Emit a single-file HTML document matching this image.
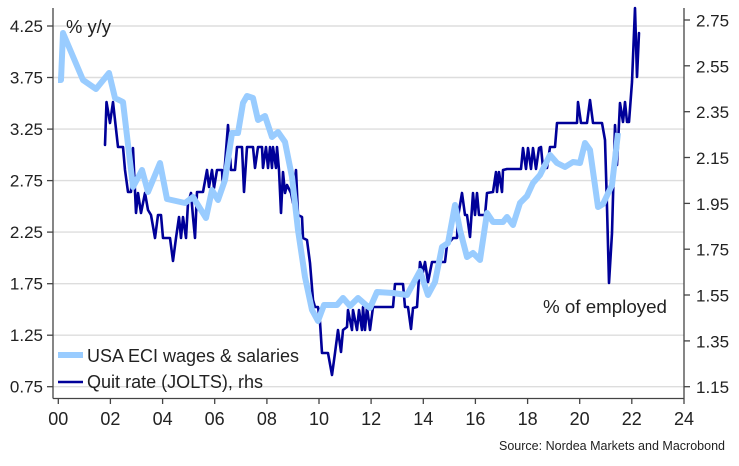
<!DOCTYPE html>
<html>
<head>
<meta charset="utf-8">
<style>
  html,body{margin:0;padding:0;background:#fff;}
  svg{display:block;}
  text{font-family:"Liberation Sans","DejaVu Sans",sans-serif;fill:#222;}
</style>
</head>
<body>
<svg width="739" height="466" viewBox="0 0 739 466" xmlns="http://www.w3.org/2000/svg">
  <!-- gridlines (left scale) -->
  <g stroke="#dddddd" stroke-width="1.4">
    <line x1="53" y1="26" x2="684" y2="26"/>
    <line x1="53" y1="77.5" x2="684" y2="77.5"/>
    <line x1="53" y1="129.1" x2="684" y2="129.1"/>
    <line x1="53" y1="180.6" x2="684" y2="180.6"/>
    <line x1="53" y1="232.1" x2="684" y2="232.1"/>
    <line x1="53" y1="283.7" x2="684" y2="283.7"/>
    <line x1="53" y1="335.2" x2="684" y2="335.2"/>
    <line x1="53" y1="386.7" x2="684" y2="386.7"/>
  </g>

  <!-- axes -->
  <g stroke="#444" stroke-width="1.3" fill="none">
    <line x1="53" y1="8" x2="53" y2="398.5"/>
    <line x1="684" y1="8" x2="684" y2="398.5"/>
    <line x1="53" y1="398.5" x2="684" y2="398.5"/>
    <!-- left ticks -->
    <line x1="47" y1="26" x2="53" y2="26"/>
    <line x1="47" y1="77.5" x2="53" y2="77.5"/>
    <line x1="47" y1="129.1" x2="53" y2="129.1"/>
    <line x1="47" y1="180.6" x2="53" y2="180.6"/>
    <line x1="47" y1="232.1" x2="53" y2="232.1"/>
    <line x1="47" y1="283.7" x2="53" y2="283.7"/>
    <line x1="47" y1="335.2" x2="53" y2="335.2"/>
    <line x1="47" y1="386.7" x2="53" y2="386.7"/>
    <!-- right ticks -->
    <line x1="684" y1="20" x2="690" y2="20"/>
    <line x1="684" y1="65.8" x2="690" y2="65.8"/>
    <line x1="684" y1="111.7" x2="690" y2="111.7"/>
    <line x1="684" y1="157.5" x2="690" y2="157.5"/>
    <line x1="684" y1="203.4" x2="690" y2="203.4"/>
    <line x1="684" y1="249.2" x2="690" y2="249.2"/>
    <line x1="684" y1="295" x2="690" y2="295"/>
    <line x1="684" y1="340.9" x2="690" y2="340.9"/>
    <line x1="684" y1="386.7" x2="690" y2="386.7"/>
    <!-- x ticks -->
    <line x1="58.3" y1="398.5" x2="58.3" y2="404"/>
    <line x1="110.4" y1="398.5" x2="110.4" y2="404"/>
    <line x1="162.6" y1="398.5" x2="162.6" y2="404"/>
    <line x1="214.7" y1="398.5" x2="214.7" y2="404"/>
    <line x1="266.9" y1="398.5" x2="266.9" y2="404"/>
    <line x1="319" y1="398.5" x2="319" y2="404"/>
    <line x1="371.1" y1="398.5" x2="371.1" y2="404"/>
    <line x1="423.3" y1="398.5" x2="423.3" y2="404"/>
    <line x1="475.4" y1="398.5" x2="475.4" y2="404"/>
    <line x1="527.6" y1="398.5" x2="527.6" y2="404"/>
    <line x1="579.7" y1="398.5" x2="579.7" y2="404"/>
    <line x1="631.8" y1="398.5" x2="631.8" y2="404"/>
    <line x1="684" y1="398.5" x2="684" y2="404"/>
  </g>

  <!-- left labels -->
  <g font-size="17" text-anchor="end">
    <text x="43" y="32">4.25</text>
    <text x="43" y="83.5">3.75</text>
    <text x="43" y="135.1">3.25</text>
    <text x="43" y="186.6">2.75</text>
    <text x="43" y="238.1">2.25</text>
    <text x="43" y="289.7">1.75</text>
    <text x="43" y="341.2">1.25</text>
    <text x="43" y="392.7">0.75</text>
  </g>
  <!-- right labels -->
  <g font-size="17" text-anchor="start">
    <text x="696" y="26.5">2.75</text>
    <text x="696" y="72.3">2.55</text>
    <text x="696" y="118.2">2.35</text>
    <text x="696" y="164">2.15</text>
    <text x="696" y="209.9">1.95</text>
    <text x="696" y="255.7">1.75</text>
    <text x="696" y="301.5">1.55</text>
    <text x="696" y="347.4">1.35</text>
    <text x="696" y="393.2">1.15</text>
  </g>
  <!-- x labels -->
  <g font-size="18" text-anchor="middle">
    <text x="58.3" y="425">00</text>
    <text x="110.4" y="425">02</text>
    <text x="162.6" y="425">04</text>
    <text x="214.7" y="425">06</text>
    <text x="266.9" y="425">08</text>
    <text x="319" y="425">10</text>
    <text x="371.1" y="425">12</text>
    <text x="423.3" y="425">14</text>
    <text x="475.4" y="425">16</text>
    <text x="527.6" y="425">18</text>
    <text x="579.7" y="425">20</text>
    <text x="631.8" y="425">22</text>
    <text x="684" y="425">24</text>
  </g>

  <!-- Quit rate (dark) -->
  <polyline fill="none" stroke="#000099" stroke-width="2.6" stroke-linejoin="round" stroke-linecap="round"
    points="105,145 106.5,102 110,123 113,102 118,147 123,147 125,170 128,192 131,192 133,148 136,213 138,193 141,213 145,193 148,210 151,215 155,238 158,215 161,215 163,238 170,238 173,261 176,238 179,217 181,238 183,217 186,238 188,203 191,193 193,217 195,238 197,192 203,192 207,170 209,187 212,170 214,188 217,170 222,170 223,190 228,125 231,170 235,170 237,147 242,147 244,192 247,147 253,147 255,168 258,147 262,147 263,168 266,147 268,168 270,147 272,168 273,147 276,168 277,147 279,170 281,213 283,172 285,193 287,185 291,193 293,203 296,170 298,215 302,217 303,238 307,240 310,263 313,300 315,307 318,307 320,322 322,353 328,353 332,375 335,353 338,330 341,352 343,330 347,327 348,310 352,330 353,310 357,330 359,310 362,330 363,307 365,330 367,307 370,330 373,307 393,307 395,284 403,284 405,307 408,307 411,329 413,308 417,307 420,262 423,272 425,262 428,282 432,262 445,262 447,245 453,238 457,238 458,217 462,193 465,215 467,215 470,237 473,193 475,215 477,193 479,215 485,215 487,193 493,192 496,172 497,192 499,172 502,192 503,170 507,169 521,169 523,148 526,169 528,148 531,169 533,148 536,169 539,148 541,147 543,168 547,168 550,147 555,147 557,123 577,123 578,102 581,123 587,123 590,100 593,123 602,123 605,140 607,207 609,283 612,233 615,125 617,165 620,103 623,122 625,102 627,122 629,122 632,82 635,8 637,77 639,33"/>

  <!-- ECI (light blue) -->
  <polyline fill="none" stroke="#99ccff" stroke-width="6" stroke-linejoin="round" stroke-linecap="butt"
    points="58,80 61,80 63,33 83,80 96,89 109,73 115,98 123,102 133,187 142,170 148,192 160,163 167,199 185,203 193,197 206,218 212,190 218,200 225,180 232,133 238,133 243,103 247,96 253,98 258,120 265,116 272,137 278,132 285,142 292,177 298,230 305,277 312,310 318,321 324,305 337,305 343,298 350,306 358,298 366,305 370,308 377,292 393,293 407,295 420,271 428,295 435,282 442,247 448,243 455,205 460,230 467,257 473,253 480,260 487,213 493,222 503,222 507,217 513,225 520,203 527,196 533,183 540,175 550,155 557,163 565,167 573,162 580,163 585,143 590,150 598,207 603,204 612,185 618,133"/>

  <!-- annotations -->
  <text x="66" y="33" font-size="18" textLength="45" lengthAdjust="spacingAndGlyphs">% y/y</text>
  <text x="543" y="313" font-size="18" textLength="124" lengthAdjust="spacingAndGlyphs">% of employed</text>

  <!-- legend -->
  <line x1="58" y1="355" x2="83" y2="355" stroke="#99ccff" stroke-width="6"/>
  <text x="87" y="362" font-size="18" textLength="212" lengthAdjust="spacingAndGlyphs">USA ECI wages &amp; salaries</text>
  <line x1="58" y1="382" x2="83" y2="382" stroke="#000099" stroke-width="2.6"/>
  <text x="87" y="388" font-size="18" textLength="176" lengthAdjust="spacingAndGlyphs">Quit rate (JOLTS), rhs</text>

  <!-- source -->
  <text x="499" y="450" font-size="12.5" fill="#333" textLength="226" lengthAdjust="spacingAndGlyphs">Source: Nordea Markets and Macrobond</text>
</svg>
</body>
</html>
